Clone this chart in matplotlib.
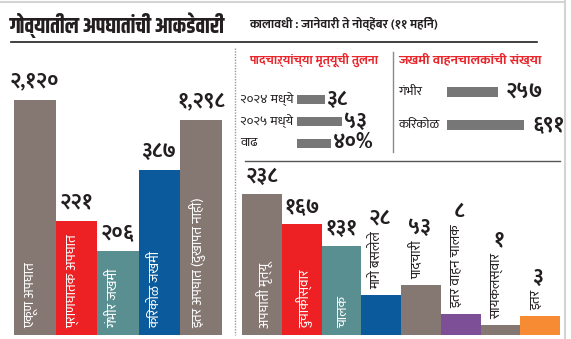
import matplotlib
matplotlib.use("Agg")
import matplotlib.pyplot as plt
from matplotlib import font_manager, transforms


def pick(cands):
    for c in cands:
        try:
            font_manager.findfont(c, fallback_to_default=False)
            return c
        except ValueError:
            pass
    return "DejaVu Sans"


body = pick(["Mukta", "Ek Mukta", "Hind", "Noto Sans Devanagari", "Poppins", "Biryani"])
head = pick(["Khand", "Yantramanav", "Rajdhani", "Teko", body])
plt.rcParams["font.family"] = [body, "DejaVu Sans"]

# ---- data ----
# overall accidents (left panel)
acc_labels = ["एकूण अपघात", "प्राणघातक अपघात", "गंभीर जखमी", "किरकोळ जखमी", "इतर अपघात (दुखापत नाही)"]
acc_values = ["२,१२०", "२२१", "२०६", "३८७", "१,२९८"]
acc_heights = [235, 114, 84, 165, 215]   # drawn heights (infographic is not to scale)
acc_colors = ["#857873", "#ed2024", "#5a8f91", "#0b5a9c", "#857873"]

# pedestrian deaths comparison
ped_labels = ["२०२४ मध्ये", "२०२५ मध्ये", "वाढ"]
ped_values = ["३८", "५३", "४०%"]
ped_lengths = [28, 45, 34]

# injured drivers
drv_labels = ["गंभीर", "किरकोळ"]
drv_values = ["२५७", "६९१"]
drv_lengths = [51, 77]

# fatal accidents breakdown (bottom right)
death_labels = ["अपघाती मृत्यू", "दुचाकीस्वार", "चालक", "मागे बसलेले", "पादचारी",
                "इतर वाहन चालक", "सायकलस्वार", "इतर"]
death_values = ["२३८", "१६७", "१३१", "२८", "५३", "८", "१", "३"]
death_heights = [141, 111, 89, 40, 50, 21, 10, 19]
death_colors = ["#857873", "#ed2024", "#5a8f91", "#0b5a9c", "#857873", "#7c4f97", "#857873", "#f68b33"]
inside_count = 3

W, H = 571, 339
dark = "#231f20"
red = "#e8262c"

fig = plt.figure(figsize=(W / 100, H / 100), dpi=100)


def box(x0, y0, x1, y1):
    # pixel box (top-left origin) -> figure fraction rect
    return [x0 / W, 1 - y1 / H, (x1 - x0) / W, (y1 - y0) / H]


# overlay for titles and rules
ov = fig.add_axes([0, 0, 1, 1])
ov.set_xlim(0, W)
ov.set_ylim(H, 0)
ov.axis("off")

ov.plot([0, 565], [1.5, 1.5], color="#d4d4d4", lw=1.5)
ov.plot([565, 565], [0, H], color="#d4d4d4", lw=1.5)
ov.text(10, 25, "गोव्यातील अपघातांची आकडेवारी", fontsize=15.5, fontweight="bold",
        family=[head, "DejaVu Sans"], color=dark, va="center", ha="left")
ov.text(249, 24, "कालावधी : जानेवारी ते नोव्हेंबर (११ महिने)", fontsize=9,
        fontweight="bold", color=dark, va="center", ha="left")
ov.plot([11, 537], [42, 42], color=dark, lw=1.2)
ov.plot([235, 235], [48, 335], color="#9a9a9a", lw=1, ls=(0, (1, 1)))
ov.plot([393, 393], [52, 152], color="#8a8a8a", lw=1)
ov.plot([245, 560], [161, 161], color="#555555", lw=1)
ov.text(249, 60, "पादचाऱ्यांच्या मृत्यूची तुलना", fontsize=9, fontweight="bold",
        color=red, va="center", ha="left")
ov.text(398, 60, "जखमी वाहनचालकांची संख्या", fontsize=9.7, fontweight="bold",
        color=red, va="center", ha="left")

# ---- left panel ----
ax1 = fig.add_axes(box(14, 60, 222, 335))
ax1.set_xlim(-0.5, len(acc_heights) - 0.5)
ax1.set_ylim(0, 275)
ax1.axis("off")
ax1.bar(range(len(acc_heights)), acc_heights, width=1.0, color=acc_colors)
for i, (lab, val, h) in enumerate(zip(acc_labels, acc_values, acc_heights)):
    ax1.annotate(val, (i, h), xytext=(0, 6), textcoords="offset points",
                 ha="center", va="bottom", fontsize=15, fontweight="bold", color=dark)
    ax1.text(i - 0.1, 7, lab, rotation=90, ha="center", va="bottom",
             fontsize=10, color="white")

# ---- pedestrian comparison ----
ax3 = fig.add_axes(box(297, 88.5, 390, 154.5))
ax3.set_xlim(0, 93)
ax3.set_ylim(len(ped_lengths) - 0.5, -0.5)
ax3.axis("off")
ax3.barh(range(len(ped_lengths)), ped_lengths, height=0.42, color="#777777")
tr3 = transforms.blended_transform_factory(fig.transFigure, ax3.transData)
for i, (lab, val, ln) in enumerate(zip(ped_labels, ped_values, ped_lengths)):
    ax3.text(240 / W, i, lab, transform=tr3, ha="left", va="center", fontsize=9.5, color=dark)
    ax3.text(ln + 2, i, val, ha="left", va="center", fontsize=15, fontweight="bold", color=dark)

# ---- injured drivers ----
ax4 = fig.add_axes(box(447, 75.5, 565, 141.5))
ax4.set_xlim(0, 118)
ax4.set_ylim(len(drv_lengths) - 0.5, -0.5)
ax4.axis("off")
ax4.barh(range(len(drv_lengths)), drv_lengths, height=0.3, color="#777777")
tr4 = transforms.blended_transform_factory(fig.transFigure, ax4.transData)
for i, (lab, val, ln) in enumerate(zip(drv_labels, drv_values, drv_lengths)):
    ax4.text(398 / W, i, lab, transform=tr4, ha="left", va="center", fontsize=9.5, color=dark)
    ax4.text(ln + 8, i, val, ha="left", va="center", fontsize=15, fontweight="bold", color=dark)

# ---- fatal accidents breakdown ----
ax2 = fig.add_axes(box(242, 165, 560, 335))
ax2.set_xlim(-0.5, len(death_heights) - 0.5)
ax2.set_ylim(0, 170)
ax2.axis("off")
ax2.bar(range(len(death_heights)), death_heights, width=1.0, color=death_colors)

fig.canvas.draw()
for i, (lab, val, h) in enumerate(zip(death_labels, death_values, death_heights)):
    if i < inside_count:
        ax2.text(i + 0.05, 7, lab, rotation=90, ha="center", va="bottom",
                 fontsize=10, color="white")
        ax2.annotate(val, (i, h), xytext=(0, 5), textcoords="offset points",
                     ha="center", va="bottom", fontsize=15, fontweight="bold", color=dark)
    else:
        t = ax2.annotate(lab, (i - 0.1, h), xytext=(0, 4), textcoords="offset points",
                         rotation=90, ha="center", va="bottom", fontsize=10, color=dark)
        bb = t.get_window_extent(fig.canvas.get_renderer())
        ax2.annotate(val, (i - 0.05, h), xycoords="data",
                     xytext=(0, (bb.y1 - ax2.transData.transform((i, h))[1]) * 72 / fig.dpi + 2),
                     textcoords="offset points", ha="center", va="bottom",
                     fontsize=15, fontweight="bold", color=dark)

fig.savefig("out.png", dpi=100, facecolor="white")
